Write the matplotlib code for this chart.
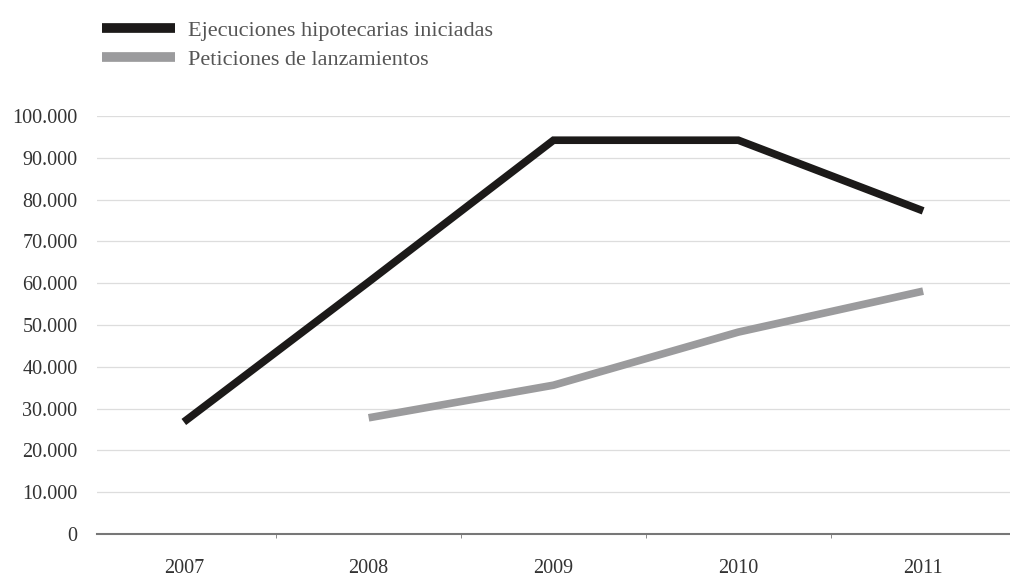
import matplotlib.pyplot as plt

years = ["2007", "2008", "2009", "2010", "2011"]
ejecuciones = [26800, 60300, 94200, 94200, 77300]
peticiones_years = ["2008", "2009", "2010", "2011"]
peticiones = [27800, 35600, 48300, 58100]
yticks = list(range(0, 100001, 10000))
ytick_labels = ["0"] + ["{:,}".format(v).replace(",", ".") for v in yticks[1:]]

plt.rcParams['font.family'] = ['Liberation Serif', 'DejaVu Serif']

fig = plt.figure(figsize=(10.1, 5.79), dpi=100)
ax = fig.add_axes([0.096, 0.0777, 0.904, 0.722])

xpos = {y: i for i, y in enumerate(years)}
l1, = ax.plot([xpos[y] for y in years], ejecuciones, color='#1c1a19', lw=5.5,
              solid_capstyle='butt', solid_joinstyle='miter')
l2, = ax.plot([xpos[y] for y in peticiones_years], peticiones, color='#9b9b9d', lw=5.5,
              solid_capstyle='butt', solid_joinstyle='miter')

ax.set_ylim(0, 100000)
ax.set_xlim(-0.47, 4.47)
ax.set_yticks(yticks)
ax.set_yticklabels(ytick_labels, fontsize=14.5, color='#333333')
ax.set_xticks(range(len(years)))
ax.set_xticklabels(years, fontsize=14.5, color='#333333')
ax.tick_params(axis='x', length=0, pad=18)
ax.tick_params(axis='y', length=0, pad=14)
ax.set_xticks([i + 0.5 for i in range(len(years) - 1)], minor=True)
ax.tick_params(axis='x', which='minor', length=3, color='#777777', direction='out')

for v in yticks[1:]:
    ax.axhline(v, color='#dddddd', lw=0.9, zorder=0)
for s in ['top', 'right', 'left']:
    ax.spines[s].set_visible(False)
ax.spines['bottom'].set_color('#777777')
ax.spines['bottom'].set_linewidth(1.5)

leg = fig.legend([l1, l2], ["Ejecuciones hipotecarias iniciadas", "Peticiones de lanzamientos"],
                 loc='upper left', bbox_to_anchor=(0.081, 1.0), frameon=False,
                 fontsize=16, handlelength=3.3, handletextpad=0.6, labelspacing=0.4,
                 labelcolor='#555555', borderaxespad=0.5)
for h in leg.get_lines():
    h.set_linewidth(7)

plt.savefig("out.png", dpi=100)
